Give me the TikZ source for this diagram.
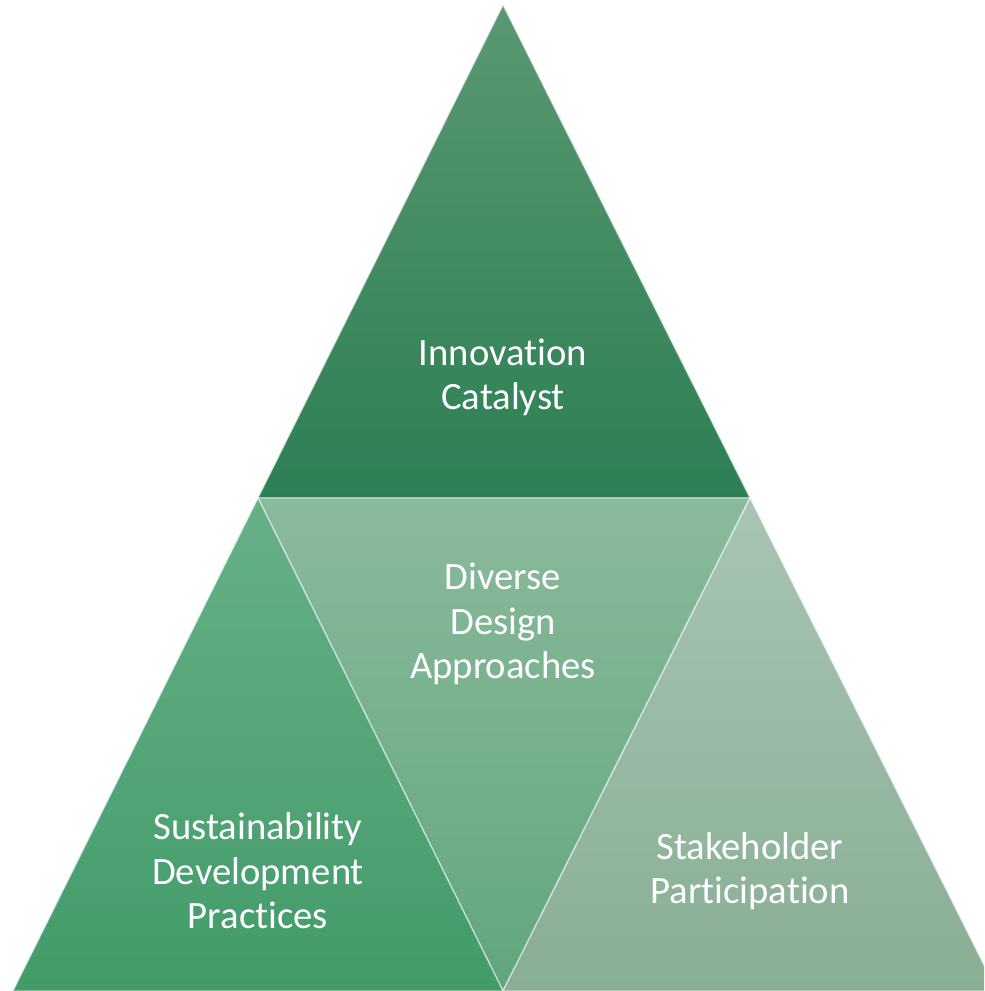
\documentclass[tikz,border=0pt]{standalone}
\usepackage{fontspec}
\setmainfont{Carlito}[Ligatures=NoCommon]
\usepackage{xcolor}
\usetikzlibrary{positioning,calc}

\definecolor{topA}{HTML}{5A9873}
\definecolor{topB}{HTML}{2C7F54}
\definecolor{midA}{HTML}{8ABA9C}
\definecolor{midB}{HTML}{62A67D}
\definecolor{leftA}{HTML}{66B088}
\definecolor{leftB}{HTML}{429B69}
\definecolor{rightA}{HTML}{A8C5B3}
\definecolor{rightB}{HTML}{88AE94}

\begin{document}
\begin{tikzpicture}[
    piece/.style={draw=white, draw opacity=0.5, line width=0.4pt},
    label/.style={text=white, align=center, font=\fontsize{11}{12.6}\selectfont}
]
\useasboundingbox (0,0) rectangle (9.84,9.91);
\clip (0,0) rectangle (9.84,9.91);

% Corners
\coordinate (apex) at (5.03,9.86);
\coordinate (ml) at (2.58,4.93);
\coordinate (mr) at (7.50,4.93);
\coordinate (bl) at (0.13,0);
\coordinate (bm) at (5.03,0);
\coordinate (br) at (9.97,0);

% Triangles
\shade[piece, top color=topA, bottom color=topB] (apex) -- (ml) -- (mr) -- cycle;
\shade[piece, top color=midA, bottom color=midB] (ml) -- (mr) -- (bm) -- cycle;
\shade[piece, top color=leftA, bottom color=leftB] (ml) -- (bl) -- (bm) -- cycle;
\shade[piece, top color=rightA, bottom color=rightB] (mr) -- (bm) -- (br) -- cycle;

% Labels
\node (innovation) [label] at (5.03,6.14) {Innovation\\Catalyst};
\node (diverse) [label] at (5.03,3.67) {Diverse\\Design\\Approaches};
\node (sustain) [label] at (2.58,1.20) {Sustainability\\Development\\Practices};
\node (stake) [label] at (7.50,1.20) {Stakeholder\\Participation};

\end{tikzpicture}
\end{document}
